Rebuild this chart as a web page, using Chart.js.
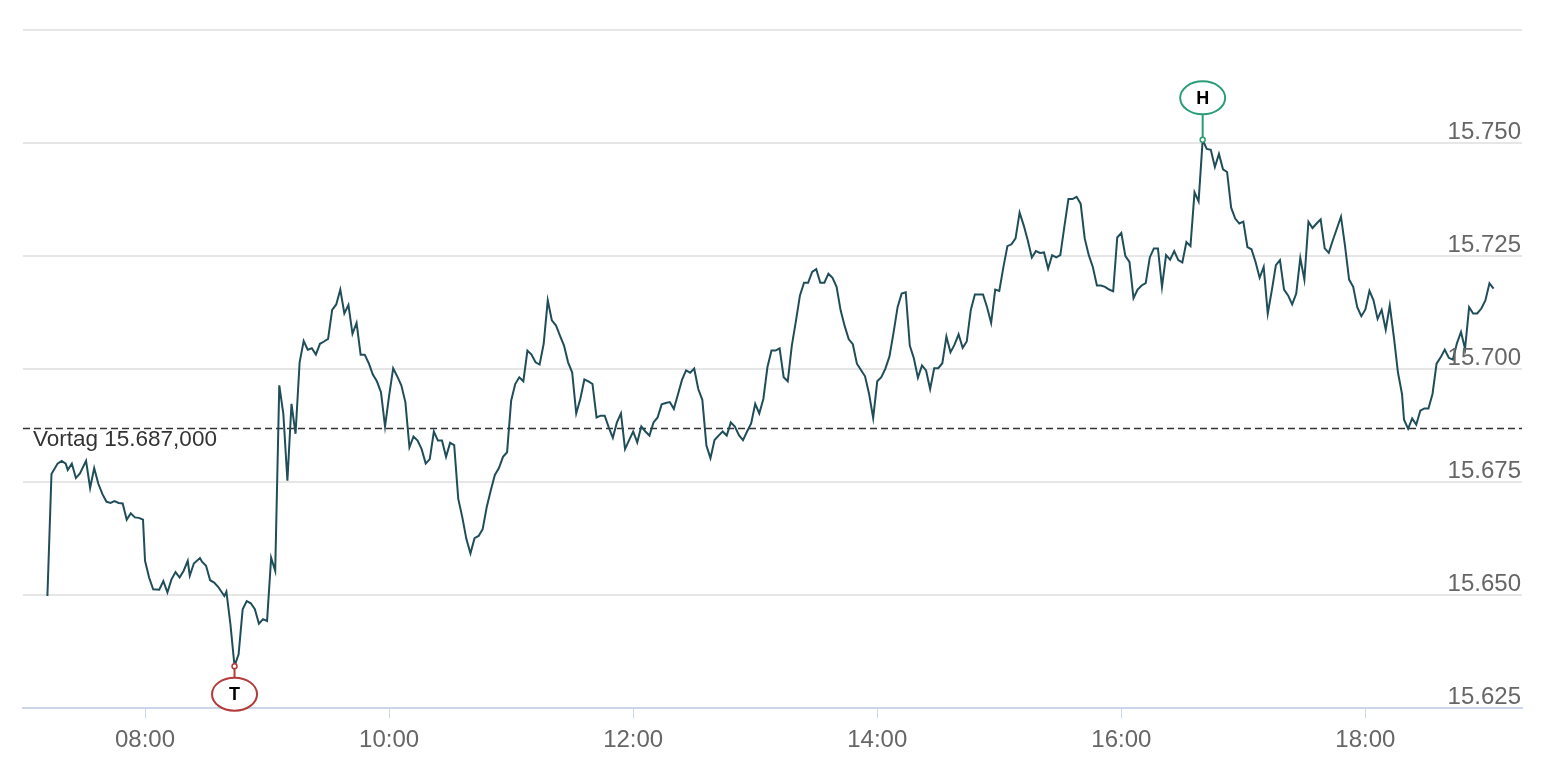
<!DOCTYPE html>
<html><head><meta charset="utf-8">
<script src="https://cdn.jsdelivr.net/npm/chart.js@4.4.0/dist/chart.umd.min.js"></script>
<style>html,body{margin:0;padding:0;background:#fff;}#wrap{width:1560px;height:774px;}</style>
</head><body><div id="wrap"><canvas id="c" width="1560" height="774"></canvas></div>
<script>
// time in minutes since midnight
const times = [
432,434,437,439,441,442,444,446,448,451,
453,455,457,459,461,463,465,467,469,471,
473,475,477,479,480,482,484,487,489,491,
493,495,497,499,501,502,504,507,508,510,
512,514,516,519,520,522,524,526,528,530,
532,534,536,538,540,542,544,546,548,550,
552,554,556,558,560,562,564,566,568,570,
572,574,576,578,580,582,584,586,588,590,
592,594,596,598,600,602,604,606,608,610,
612,614,616,618,620,622,624,626,628,630,
632,634,636,638,640,642,644,646,648,650,
652,654,656,658,660,662,664,666,668,670,
672,674,676,678,680,682,684,686,688,690,
692,694,696,698,700,702,704,706,708,710,
712,714,716,718,720,722,724,726,728,730,
732,734,736,738,740,742,744,746,748,750,
752,754,756,758,760,762,764,766,768,770,
772,774,776,778,780,782,784,786,788,790,
792,794,796,798,800,802,804,806,808,810,
812,814,816,818,820,822,824,826,828,830,
832,834,836,838,840,842,844,846,848,850,
852,854,856,858,860,862,864,866,868,870,
872,874,876,878,880,882,884,886,888,890,
892,894,896,898,900,902,904,906,908,910,
912,914,916,918,920,922,924,926,928,930,
932,934,936,938,940,942,944,946,948,950,
952,954,956,958,960,962,964,966,968,970,
972,974,976,978,980,982,984,986,988,990,
992,994,996,998,1000,1002,1004,1006,1008,1010,
1012,1014,1016,1018,1020,1022,1024,1026,1028,1030,
1032,1034,1036,1038,1040,1042,1044,1046,1048,1050,
1052,1054,1056,1058,1060,1062,1064,1066,1068,1070,
1072,1074,1076,1078,1080,1082,1084,1086,1088,1090,
1092,1094,1096,1098,1099,1101,1103,1105,1107,1109,
1111,1113,1115,1117,1119,1121,1123,1125,1127,1129,
1131,1133,1135,1137,1139,1141,1143
];
const values = [
15649.8,15676.8,15679.1,15679.7,15679.1,15677.7,15679.1,15675.9,15676.9,15679.7,
15673.7,15678.1,15674.7,15672.4,15670.7,15670.4,15670.8,15670.4,15670.3,15666.7,
15668.1,15667.2,15667.1,15666.7,15657.6,15653.9,15651.3,15651.2,15653.1,15650.6,
15653.5,15655.1,15653.9,15655.4,15657.6,15654.3,15657.0,15658.2,15657.4,15656.5,
15653.3,15652.8,15651.8,15649.8,15650.8,15643.5,15634.3,15636.9,15646.9,15648.7,
15648.2,15646.9,15643.7,15644.7,15644.3,15658.3,15655.4,15696.4,15690.1,15675.3,
15692.3,15685.7,15701.5,15706.2,15704.3,15704.6,15703.2,15705.6,15706.1,15706.7,
15713.1,15714.3,15717.6,15712.3,15714.2,15707.8,15710.2,15703.2,15703.2,15701.3,
15698.8,15697.3,15694.9,15687.3,15694.1,15700.2,15698.4,15696.4,15692.7,15682.7,
15685.1,15684.2,15682.3,15679.1,15680.1,15686.2,15684.2,15684.2,15680.6,15683.7,
15683.2,15671.3,15667.2,15662.4,15659.2,15662.6,15663.1,15664.6,15669.5,15673.2,
15676.6,15678.1,15680.6,15681.6,15693.0,15696.7,15698.2,15697.3,15704.1,15703.2,
15701.5,15701.0,15705.6,15715.2,15710.8,15709.7,15707.4,15705.2,15701.5,15699.3,
15690.2,15693.4,15697.7,15697.3,15696.7,15689.3,15689.7,15689.7,15687.1,15684.8,
15688.2,15690.2,15682.3,15684.3,15686.2,15683.8,15687.3,15686.2,15685.3,15688.2,
15689.3,15692.2,15692.5,15692.7,15691.2,15694.4,15697.6,15699.7,15699.2,15700.1,
15695.6,15693.2,15683.1,15680.3,15684.3,15685.3,15686.2,15685.3,15688.2,15687.3,
15685.4,15684.3,15686.2,15688.0,15692.3,15690.2,15693.4,15700.4,15704.1,15704.1,
15704.6,15698.2,15697.3,15705.2,15710.6,15716.3,15719.1,15719.1,15721.5,15722.1,
15719.1,15719.1,15721.1,15720.2,15718.2,15713.0,15709.5,15706.6,15705.5,15701.2,
15699.8,15698.4,15694.5,15689.2,15697.3,15698.2,15700.1,15702.8,15708.0,15713.7,
15716.7,15717.0,15705.2,15702.4,15698.1,15700.8,15699.7,15695.6,15700.2,15700.2,
15701.3,15707.2,15703.7,15705.4,15707.7,15704.7,15706.1,15713.1,15716.5,15716.5,
15716.5,15713.7,15710.2,15717.6,15717.3,15722.5,15727.2,15727.6,15728.9,15734.6,
15731.8,15728.5,15724.7,15726.1,15725.7,15725.8,15722.2,15725.2,15724.7,15725.2,
15731.5,15737.6,15737.6,15738.1,15736.6,15728.9,15725.2,15722.6,15718.5,15718.5,
15718.2,15717.6,15717.2,15729.1,15730.1,15725.0,15723.7,15715.7,15717.6,15718.5,
15719.0,15724.7,15726.7,15726.7,15718.2,15725.2,15724.2,15726.1,15724.1,15723.6,
15728.1,15727.2,15739.1,15737.1,15750.7,15748.7,15748.5,15744.7,15747.6,15744.2,
15743.6,15735.7,15733.3,15732.2,15732.6,15727.0,15726.5,15723.7,15720.2,15722.6,
15712.3,15717.4,15723.0,15724.1,15717.6,15716.3,15714.3,15716.7,15724.6,15719.8,
15732.6,15731.2,15732.2,15733.1,15726.7,15725.7,15728.5,15731.1,15733.7,15727.2,
15719.8,15718.2,15713.7,15711.7,15713.2,15717.3,15715.2,15711.1,15713.1,15708.7,
15714.1,15707.1,15699.3,15694.5,15688.8,15686.8,15689.1,15687.7,15690.8,15691.3,
15691.3,15694.5,15701.2,15702.6,15704.3,15702.5,15702.1,15705.7,15708.2,15704.5,
15713.7,15712.3,15712.3,15713.4,15715.2,15719.0,15717.8
];
const xTickValues = [480, 600, 720, 840, 960, 1080];
const yTickValues = [15625, 15650, 15675, 15700, 15725, 15750, 15775];
const previousClose = 15687;
const highText = 'H';
const lowText = 'T';

const FONT = '"Liberation Sans", Arial, Helvetica, sans-serif';
const fmtTime = v => String(Math.floor(v / 60)).padStart(2, '0') + ':' + String(Math.round(v % 60)).padStart(2, '0');
const fmtNum = v => {
  const s = String(Math.round(v));
  return s.replace(/\B(?=(\d{3})+(?!\d))/g, '.');
};
const vortagText = 'Vortag ' + fmtNum(previousClose) + ',000';

let hiIdx = 0, loIdx = 0;
values.forEach((v, i) => { if (v > values[hiIdx]) hiIdx = i; if (v < values[loIdx]) loIdx = i; });

const overlay = {
  id: 'overlay',
  beforeDatasetsDraw(chart) {
    const { ctx, chartArea: a, scales: { y } } = chart;
    const yp = Math.round(y.getPixelForValue(previousClose)) + 0.5;
    ctx.save();
    ctx.strokeStyle = '#333333';
    ctx.lineWidth = 1.6;
    ctx.setLineDash([7, 4]);
    ctx.beginPath(); ctx.moveTo(a.left, yp); ctx.lineTo(a.right, yp); ctx.stroke();
    ctx.setLineDash([]);
    ctx.fillStyle = '#333333';
    ctx.font = '22.5px ' + FONT;
    ctx.textAlign = 'left';
    ctx.textBaseline = 'alphabetic';
    ctx.fillText(vortagText, a.left + 10, yp + 17);
    ctx.restore();
  },
  afterDatasetsDraw(chart) {
    const { ctx, chartArea: a, scales: { x, y } } = chart;
    ctx.save();
    ctx.fillStyle = '#666666';
    ctx.font = '24px ' + FONT;
    ctx.textAlign = 'right';
    ctx.textBaseline = 'alphabetic';
    yTickValues.forEach(v => {
      if (v === yTickValues[yTickValues.length - 1]) return;
      const p = y.getPixelForValue(v);
      ctx.fillText(fmtNum(v), a.right - 1, p - 4);
    });
    const marker = (i, color, dy, text) => {
      const px = x.getPixelForValue(times[i]);
      const py = y.getPixelForValue(values[i]);
      const cy = py + dy, rx = 22.5, ry = 16.5;
      ctx.strokeStyle = color; ctx.lineWidth = 2;
      ctx.beginPath(); ctx.moveTo(px, py); ctx.lineTo(px, dy < 0 ? cy + ry : cy - ry); ctx.stroke();
      ctx.beginPath(); ctx.ellipse(px, cy, rx, ry, 0, 0, Math.PI * 2);
      ctx.fillStyle = '#ffffff'; ctx.fill(); ctx.stroke();
      ctx.beginPath(); ctx.arc(px, py, 2.5, 0, Math.PI * 2);
      ctx.fillStyle = '#ffffff'; ctx.fill(); ctx.lineWidth = 1.5; ctx.stroke();
      ctx.fillStyle = '#000000';
      ctx.font = 'bold 18px ' + FONT;
      ctx.textAlign = 'center'; ctx.textBaseline = 'middle';
      ctx.fillText(text, px, cy + 1);
    };
    marker(hiIdx, '#2a9d74', -42, highText);
    marker(loIdx, '#b23b3b', 28, lowText);
    ctx.restore();
  }
};

new Chart(document.getElementById('c'), {
  type: 'line',
  data: {
    datasets: [{
      data: times.map((t, i) => ({ x: t, y: values[i] })),
      borderColor: '#1f4e5a',
      borderWidth: 2,
      pointRadius: 0,
      tension: 0,
      fill: false
    }]
  },
  options: {
    responsive: false,
    animation: false,
    devicePixelRatio: 1,
    layout: { padding: { left: 23, right: 38, top: 30, bottom: 11 } },
    plugins: { legend: { display: false }, tooltip: { enabled: false } },
    scales: {
      x: {
        type: 'linear', min: 420, max: 1157,
        afterBuildTicks: s => { s.ticks = xTickValues.map(v => ({ value: v })); },
        ticks: { callback: v => fmtTime(v), color: '#666666', font: { size: 24, family: FONT }, padding: 8, maxRotation: 0, autoSkip: false },
        grid: { display: true, drawOnChartArea: false, drawTicks: true, tickLength: 10, color: '#ccd6eb', lineWidth: 1 },
        border: { display: true, color: '#ccd6eb', width: 2 }
      },
      y: {
        type: 'linear', position: 'right', min: 15625, max: 15775,
        afterBuildTicks: s => { s.ticks = yTickValues.map(v => ({ value: v })); },
        ticks: { display: false },
        grid: { drawTicks: false, lineWidth: 2, color: c => (c.tick && c.tick.value === 15625) ? 'rgba(0,0,0,0)' : '#e6e6e6' },
        border: { display: false }
      }
    }
  },
  plugins: [overlay]
});
</script>
</body></html>
